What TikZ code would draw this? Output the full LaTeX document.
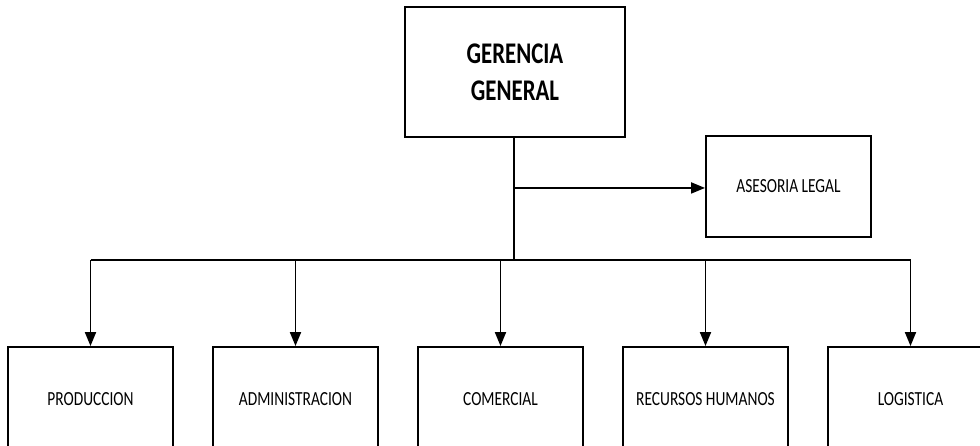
\documentclass[tikz,border=0pt]{standalone}
\usepackage{fontspec}
\usetikzlibrary{arrows.meta}
% condensed Calibri-like faces for the chart labels
\newfontfamily\unitfont[FakeStretch=0.77]{Carlito}
\newfontfamily\headfont[FakeStretch=0.76]{Carlito}
\tikzset{
  box/.style={draw=black, line width=1.9pt, fill=white, inner sep=0pt,
    minimum width=165pt, align=center},
  unit/.style={box, minimum height=104pt, font=\unitfont\fontsize{20}{24}\selectfont},
  link/.style={draw=black, line width=1.9pt},
  arr/.style={link, -{Triangle[width=11pt,length=14pt]}}
}
\begin{document}
\begin{tikzpicture}[x=1pt, y=-1pt]
  \useasboundingbox (0,0) rectangle (980,445);
  \clip (0,0) rectangle (980,445);

  % head office and advisory unit
  \node[box, minimum width=220pt, minimum height=130pt,
        font=\headfont\bfseries\fontsize{30}{37}\selectfont]
        (gg) at (515,72) {GERENCIA\\GENERAL};
  \node[box, minimum height=101pt, font=\unitfont\fontsize{20}{24}\selectfont]
        (al) at (788.5,186.5) {ASESORIA LEGAL};

  % departments
  \node[unit] (prod) at (90.5,399)  {PRODUCCION};
  \node[unit] (adm)  at (295.5,399) {ADMINISTRACION};
  \node[unit] (com)  at (500.5,399) {COMERCIAL};
  \node[unit] (rh)   at (705.5,399) {RECURSOS HUMANOS};
  \node[unit] (log)  at (910.5,399) {LOGISTICA};

  % trunk and distribution bus
  \coordinate (bus) at (514,260);
  \draw[link] (gg.south -| bus) -- (bus);
  \draw[arr] (gg.south -| bus) ++(0,50) coordinate (tap) -- (al.west |- tap);
  \draw[link] (prod.north |- bus) -- (log.north |- bus);

  \foreach \d in {prod,adm,com,rh,log}
    \draw[arr] (\d.north |- bus) -- (\d.north);
\end{tikzpicture}
\end{document}
